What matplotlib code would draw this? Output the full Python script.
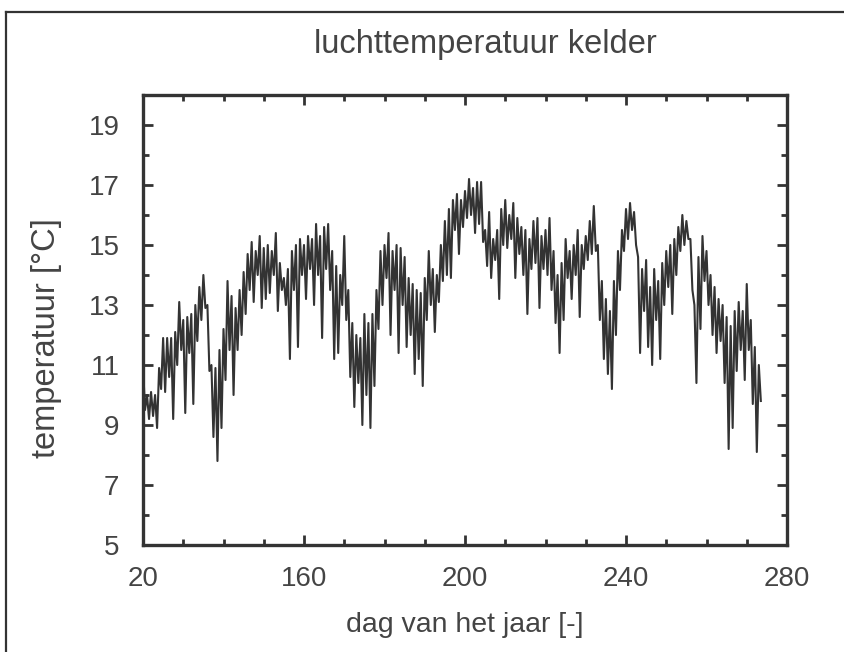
import matplotlib
matplotlib.use("Agg")
import matplotlib.pyplot as plt
from matplotlib.lines import Line2D
from matplotlib.ticker import MultipleLocator

# ---- data ----
days = list(range(120, 274))
daily_high = [11.0, 10.0, 10.1, 10.0, 10.9, 11.9, 11.9, 11.9, 12.1, 13.1,
              12.5, 12.6, 12.7, 13.0, 13.6, 14.0, 13.0, 11.0, 10.9, 11.5,
              12.2, 13.8, 13.3, 12.9, 13.5, 14.1, 14.7, 15.1, 14.8, 15.3,
              14.9, 15.0, 14.8, 15.4, 14.4, 13.9, 14.2, 14.8, 15.0, 15.2,
              15.0, 15.3, 15.2, 15.7, 15.3, 15.6, 15.7, 14.8, 14.3, 14.0,
              15.3, 13.5, 12.4, 12.0, 11.9, 12.7, 12.4, 12.7, 13.5, 14.8,
              15.0, 15.4, 14.8, 15.0, 14.9, 14.6, 13.9, 13.7, 13.5, 13.4,
              13.9, 14.8, 14.2, 14.0, 15.0, 15.8, 16.2, 16.5, 16.7, 16.5,
              16.8, 17.2, 16.9, 17.1, 17.1, 15.5, 16.1, 15.2, 15.5, 16.2,
              16.5, 16.0, 16.4, 15.9, 15.6, 15.5, 15.2, 15.8, 15.9, 15.3,
              15.5, 15.9, 14.8, 14.0, 14.4, 15.2, 14.8, 15.0, 15.5, 15.0,
              15.3, 15.8, 16.3, 15.0, 13.8, 13.2, 12.8, 13.8, 14.8, 15.5,
              16.2, 16.4, 16.1, 14.6, 14.2, 14.5, 13.6, 14.2, 13.8, 14.4,
              14.8, 15.0, 15.2, 15.6, 16.0, 15.8, 15.2, 13.0, 14.6, 15.3,
              14.8, 14.0, 13.6, 13.2, 13.0, 12.6, 12.3, 12.8, 13.1, 12.8,
              13.7, 12.5, 11.6, 11.0]
daily_low = [9.5, 9.2, 9.3, 8.9, 10.2, 10.1, 10.6, 9.2, 11.0, 11.5,
             9.4, 11.4, 9.7, 11.8, 12.5, 12.9, 10.8, 8.6, 7.8, 8.9,
             10.5, 11.5, 10.0, 11.5, 12.0, 12.7, 13.5, 13.1, 14.0, 12.9,
             13.2, 13.4, 14.0, 12.8, 13.5, 13.0, 11.2, 13.5, 11.6, 14.0,
             13.2, 14.2, 13.0, 14.0, 11.9, 14.2, 13.5, 11.2, 11.4, 13.0,
             12.5, 10.6, 9.6, 10.4, 9.0, 10.0, 8.9, 10.3, 12.2, 13.0,
             13.9, 12.0, 13.5, 11.4, 13.0, 11.6, 12.0, 10.7, 11.2, 10.3,
             12.5, 13.0, 12.1, 13.1, 13.8, 14.0, 13.9, 15.5, 14.7, 15.6,
             15.9, 16.0, 15.4, 15.7, 15.1, 14.3, 13.9, 14.5, 13.2, 15.0,
             14.9, 15.2, 13.9, 14.7, 14.0, 12.7, 14.2, 14.4, 12.9, 14.2,
             14.0, 13.5, 12.4, 11.4, 12.5, 13.9, 13.2, 14.0, 12.6, 14.2,
             14.5, 14.7, 14.8, 12.5, 11.2, 10.7, 10.2, 12.0, 13.5, 14.8,
             15.2, 15.5, 15.0, 11.4, 12.8, 11.6, 11.0, 12.5, 11.2, 13.0,
             13.6, 12.7, 14.0, 14.8, 15.0, 15.2, 13.5, 10.4, 12.2, 13.8,
             13.0, 12.0, 11.4, 11.8, 10.4, 8.2, 8.9, 10.8, 11.5, 10.5,
             11.5, 9.7, 8.1, 9.8]

title = "luchttemperatuur kelder"
xlabel = "dag van het jaar [-]"
ylabel = "temperatuur [\u00b0C]"
x_ticks = [120, 160, 200, 240, 280]
x_tick_labels = ["20", "160", "200", "240", "280"]
y_ticks = [5, 7, 9, 11, 13, 15, 17, 19]

# interleave daily high / low into one zig-zag trace
xs, ys = [], []
for d, hi, lo in zip(days, daily_high, daily_low):
    xs += [d, d + 0.5]
    ys += [hi, lo]

ink = "#333333"
text_c = "#444444"
plt.rcParams['font.family'] = ['Liberation Sans', 'DejaVu Sans']

fig = plt.figure(figsize=(8.44, 6.52), dpi=100)
ax = fig.add_axes([143/844, 1-545/652, (787-143)/844, (545-95)/652])

ax.plot(xs, ys, color=ink, lw=1.5)

ax.set_xlim(120, 280)
ax.set_ylim(5, 20)
ax.set_xticks(x_ticks)
ax.set_xticklabels(x_tick_labels)
ax.set_yticks(y_ticks)
ax.xaxis.set_minor_locator(MultipleLocator(10))
ax.yaxis.set_minor_locator(MultipleLocator(1))
ax.tick_params(which='both', direction='in', top=True, right=True,
               color=ink, width=2.0, labelsize=20, labelcolor=text_c)
ax.tick_params(which='major', length=7)
ax.tick_params(which='minor', length=4)
ax.tick_params(axis='y', which='major', pad=17)
ax.tick_params(axis='x', which='major', pad=15)
for s in ax.spines.values():
    s.set_color(ink)
    s.set_linewidth(2.4)

fig.text(465/844, 1-625/652, xlabel, ha='center', va='center',
         fontsize=20.5, color=text_c)
fig.text(47/844, 1-338/652, ylabel, ha='center', va='center',
         rotation=90, fontsize=23.5, color=text_c)
fig.text(485/844, 1-45/652, title, ha='center', va='center',
         fontsize=23.5, color=text_c)

# outer frame of the scanned page
fig.add_artist(Line2D([6/844, 1.0], [1-12/652, 1-12/652], color=ink, lw=1.6))
fig.add_artist(Line2D([6/844, 6/844], [0, 1-12/652], color=ink, lw=1.6))

fig.savefig("out.png", dpi=100)
